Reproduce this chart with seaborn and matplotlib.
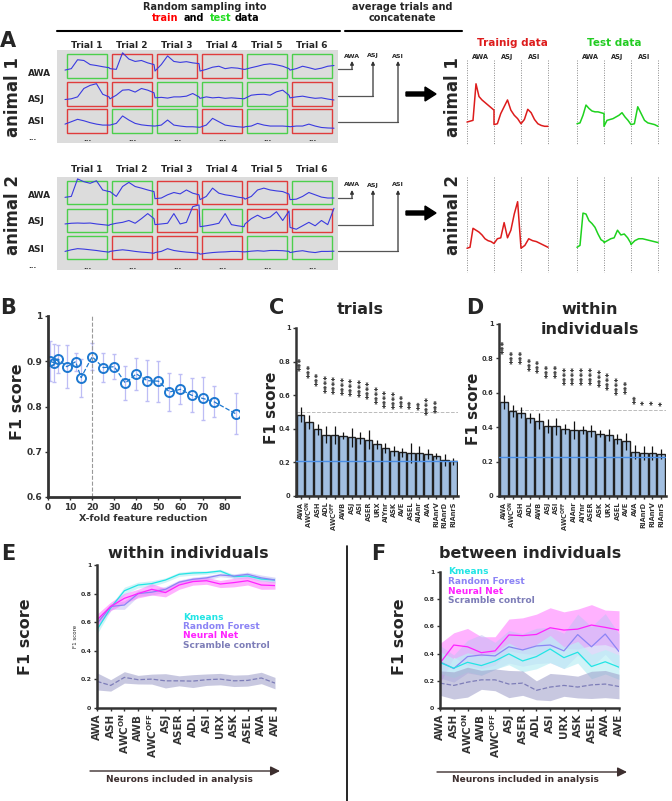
import numpy as np
import pandas as pd
import matplotlib
matplotlib.use('Agg')
import matplotlib.pyplot as plt
import seaborn as sns
from matplotlib.patches import Rectangle, FancyArrow

# ---------------- panel A: single-trial traces (fraction of row height, 8 samples / trial)
a1_awa = [0.33, 0.39, 0.76, 0.73, 0.56, 0.52, 0.47, 0.43,
          0.39, 0.36, 1.05, 0.79, 0.69, 0.73, 0.63, 0.56,
          0.29, 0.56, 0.92, 0.69, 0.65, 0.68, 0.63, 0.60,
          0.29, 0.36, 0.45, 0.49, 0.39, 0.43, 0.41, 0.36,
          0.36, 0.43, 0.49, 0.56, 0.59, 0.55, 0.49, 0.39,
          0.33, 0.39, 0.49, 0.43, 0.36, 0.41, 0.49, 0.52]
a1_asj = [0.27, 0.30, 0.38, 0.73, 0.86, 0.93, 0.49, 0.38,
          0.30, 0.45, 0.66, 0.68, 0.58, 0.73, 0.66, 0.55,
          0.34, 0.36, 0.33, 0.38, 0.38, 0.41, 0.52, 0.38,
          0.32, 0.38, 0.34, 0.36, 0.32, 0.34, 0.32, 0.30,
          0.32, 0.45, 0.48, 0.49, 0.45, 0.59, 0.66, 0.45,
          0.34, 0.38, 0.41, 0.36, 0.32, 0.34, 0.29, 0.25]
a1_asi = [0.37, 0.47, 0.57, 0.51, 0.43, 0.37, 0.33, 0.33,
          0.33, 0.40, 0.71, 0.54, 0.40, 0.34, 0.31, 0.29,
          0.29, 0.33, 0.54, 0.33, 0.29, 0.26, 0.26, 0.24,
          0.24, 0.33, 0.61, 0.47, 0.33, 0.29, 0.26, 0.24,
          0.26, 0.29, 0.40, 0.33, 0.29, 0.29, 0.29, 0.27,
          0.26, 0.29, 0.29, 0.37, 0.29, 0.23, 0.21, 0.20]
a2_awa = [0.29, 0.33, 1.09, 0.97, 0.90, 1.01, 0.61, 0.54,
          0.54, 0.33, 0.76, 0.94, 0.76, 0.69, 0.61, 0.54,
          0.23, 0.26, 0.40, 0.50, 0.44, 0.61, 0.47, 0.40,
          0.19, 0.33, 0.69, 0.47, 0.40, 0.36, 0.30, 0.26,
          0.21, 0.33, 0.61, 0.69, 0.61, 0.57, 0.54, 0.43,
          0.19, 0.21, 0.33, 0.50, 0.40, 0.30, 0.26, 0.26]
a2_asj = [0.35, 0.38, 0.39, 0.38, 0.39, 0.35, 0.32, 0.29,
          0.32, 0.38, 0.42, 0.50, 0.38, 0.58, 0.80, 0.58,
          0.32, 0.35, 0.38, 0.80, 0.35, 0.42, 1.10, 1.18,
          0.23, 0.27, 0.32, 0.38, 0.80, 0.32, 0.27, 0.23,
          0.35, 0.58, 0.73, 0.58, 0.65, 0.88, 0.50, 0.91,
          0.20, 0.12, 0.27, 0.42, 0.27, 0.50, 0.32, 1.03]
a2_asi = [0.33, 0.40, 0.45, 0.43, 0.40, 0.37, 0.33, 0.30,
          0.33, 0.37, 0.40, 0.37, 0.33, 0.30, 0.28, 0.25,
          0.28, 0.33, 0.45, 0.37, 0.33, 0.30, 0.28, 0.25,
          0.21, 0.25, 0.28, 0.30, 0.31, 0.33, 0.33, 0.31,
          0.31, 0.34, 0.36, 0.34, 0.37, 0.37, 0.36, 0.33,
          0.28, 0.33, 0.36, 0.31, 0.28, 0.33, 0.33, 0.34]
# train (R) / test (G) assignment of each trial
a1_split = [list('GRRRGG'), list('RRGGGR'), list('RGGRGR')]
a2_split = [list('GGRRRG'), list('GGRGRR'), list('GRRRGG')]
row_names = ['AWA', 'ASJ', 'ASI']

# averaged & concatenated traces (fraction of plot height)
a1_train = [[0.27, 0.28, 0.29, 0.72, 0.57, 0.53, 0.50, 0.47, 0.44, 0.41],
            [0.24, 0.25, 0.37, 0.45, 0.53, 0.41, 0.35, 0.31, 0.25],
            [0.25, 0.30, 0.42, 0.38, 0.30, 0.25, 0.23, 0.22, 0.22]]
a1_test = [[0.25, 0.26, 0.35, 0.47, 0.43, 0.40, 0.39, 0.39, 0.38, 0.37],
           [0.22, 0.29, 0.30, 0.31, 0.33, 0.35, 0.38, 0.33, 0.29, 0.24],
           [0.24, 0.25, 0.45, 0.37, 0.29, 0.26, 0.25, 0.24, 0.22]]
a2_train = [[0.25, 0.26, 0.46, 0.44, 0.42, 0.39, 0.35, 0.33, 0.32, 0.30],
            [0.30, 0.35, 0.36, 0.52, 0.36, 0.44, 0.61, 0.74, 0.25],
            [0.25, 0.28, 0.35, 0.33, 0.32, 0.30, 0.28, 0.26]]
a2_test = [[0.26, 0.28, 0.62, 0.61, 0.54, 0.51, 0.47, 0.40, 0.34, 0.32],
           [0.31, 0.33, 0.35, 0.36, 0.44, 0.39, 0.40, 0.36, 0.30],
           [0.29, 0.33, 0.35, 0.35, 0.34, 0.33, 0.32, 0.31]]

# ---------------- panel B
b_fold = [1, 2.5, 4.5, 8.5, 12.5, 15, 20, 25, 30, 35, 40, 45, 50, 55, 60, 65, 70, 75, 85]
b_f1 = [0.900, 0.897, 0.905, 0.888, 0.899, 0.864, 0.910, 0.886, 0.888, 0.852,
        0.872, 0.857, 0.856, 0.832, 0.838, 0.825, 0.818, 0.811, 0.784]
b_err = [0.044, 0.042, 0.032, 0.048, 0.020, 0.042, 0.030, 0.032, 0.027, 0.037,
         0.035, 0.045, 0.045, 0.043, 0.033, 0.037, 0.047, 0.035, 0.045]

# ---------------- panel C (trials)
c_neurons = ['AWA', 'AWC$^{\\mathbf{ON}}$', 'ASH', 'ADL', 'AWC$^{\\mathbf{OFF}}$', 'AWB', 'ASJ', 'ASI',
             'ASER', 'URX', 'AIYnr', 'ASK', 'AVE', 'ASEL', 'AIAnr', 'AVA', 'RIAnrV', 'RIAnrD', 'RIAnrS']
c_f1 = [0.485, 0.440, 0.396, 0.366, 0.362, 0.358, 0.349, 0.343, 0.335, 0.307,
        0.283, 0.269, 0.259, 0.257, 0.253, 0.248, 0.238, 0.214, 0.207]
c_err = [0.045, 0.040, 0.030, 0.050, 0.055, 0.020, 0.055, 0.035, 0.055, 0.025,
         0.030, 0.030, 0.025, 0.060, 0.045, 0.030, 0.015, 0.035, 0.020]
c_star_y = [0.787, 0.744, 0.696, 0.670, 0.665, 0.660, 0.650, 0.645, 0.636, 0.605,
            0.583, 0.576, 0.566, 0.546, 0.540, 0.540, 0.535]
c_star_n = [3, 3, 3, 4, 4, 4, 4, 4, 4, 4, 4, 4, 3, 2, 2, 4, 3]
c_chance = 0.21

# ---------------- panel D (within individuals)
d_neurons = ['AWA', 'AWC$^{\\mathbf{ON}}$', 'ASH', 'ADL', 'AWB', 'ASJ', 'ASI', 'AWC$^{\\mathbf{OFF}}$',
             'AIAnr', 'AIYnr', 'ASER', 'ASK', 'URX', 'ASEL', 'AVE', 'AVA', 'RIAnrD', 'RIAnrV', 'RIAnrS']
d_f1 = [0.548, 0.493, 0.485, 0.452, 0.437, 0.408, 0.406, 0.388, 0.384, 0.383,
        0.379, 0.363, 0.353, 0.330, 0.317, 0.256, 0.249, 0.249, 0.243]
d_err = [0.040, 0.035, 0.030, 0.030, 0.045, 0.040, 0.050, 0.030, 0.050, 0.025,
         0.035, 0.020, 0.035, 0.030, 0.050, 0.040, 0.040, 0.040, 0.030]
d_star_y = [0.868, 0.806, 0.806, 0.771, 0.758, 0.729, 0.729, 0.703, 0.703, 0.703,
            0.703, 0.690, 0.674, 0.645, 0.636, 0.564, 0.543, 0.543, 0.535]
d_star_n = [3, 3, 3, 3, 3, 3, 3, 4, 4, 4, 4, 4, 4, 4, 3, 2, 1, 1, 1]
d_chance = 0.227

# ---------------- panels E / F
ef_neurons = ['AWA', 'ASH', 'AWC$^{\\mathbf{ON}}$', 'AWB', 'AWC$^{\\mathbf{OFF}}$', 'ASJ', 'ASER',
              'ADL', 'ASI', 'URX', 'ASK', 'ASEL', 'AVA', 'AVE']
e_kmeans = [0.547, 0.700, 0.820, 0.860, 0.870, 0.895, 0.935, 0.944, 0.947, 0.958, 0.919, 0.923, 0.902, 0.895]
e_rf = [0.590, 0.710, 0.720, 0.800, 0.810, 0.830, 0.880, 0.900, 0.910, 0.930, 0.923, 0.935, 0.910, 0.895]
e_nn = [0.616, 0.710, 0.767, 0.800, 0.830, 0.807, 0.860, 0.884, 0.890, 0.867, 0.877, 0.890, 0.860, 0.856]
e_scr = [0.186, 0.158, 0.214, 0.198, 0.202, 0.190, 0.190, 0.188, 0.198, 0.202, 0.190, 0.193, 0.210, 0.174]
e_kmeans_sd = [0.030, 0.020, 0.025, 0.020, 0.020, 0.015, 0.015, 0.015, 0.012, 0.012, 0.015, 0.015, 0.015, 0.015]
e_rf_sd = [0.030, 0.020, 0.030, 0.020, 0.020, 0.020, 0.015, 0.015, 0.015, 0.012, 0.015, 0.015, 0.020, 0.020]
e_nn_sd = [0.040, 0.030, 0.035, 0.030, 0.040, 0.030, 0.030, 0.025, 0.025, 0.025, 0.030, 0.030, 0.030, 0.025]
e_scr_sd = [0.060, 0.040, 0.040, 0.030, 0.035, 0.050, 0.035, 0.045, 0.040, 0.040, 0.040, 0.040, 0.040, 0.040]

f_kmeans = [0.334, 0.293, 0.336, 0.312, 0.346, 0.398, 0.346, 0.378, 0.434, 0.370, 0.410, 0.305, 0.340, 0.300]
f_rf = [0.340, 0.290, 0.378, 0.390, 0.383, 0.450, 0.427, 0.456, 0.463, 0.420, 0.540, 0.450, 0.544, 0.415]
f_nn = [0.330, 0.463, 0.450, 0.407, 0.420, 0.537, 0.532, 0.541, 0.590, 0.573, 0.580, 0.610, 0.593, 0.573]
f_scr = [0.183, 0.166, 0.190, 0.207, 0.207, 0.176, 0.183, 0.130, 0.154, 0.166, 0.154, 0.170, 0.176, 0.158]
f_kmeans_sd = [0.080, 0.070, 0.070, 0.070, 0.060, 0.080, 0.080, 0.090, 0.100, 0.080, 0.080, 0.090, 0.090, 0.090]
f_rf_sd = [0.120, 0.100, 0.120, 0.150, 0.100, 0.120, 0.120, 0.130, 0.130, 0.130, 0.150, 0.150, 0.150, 0.130]
f_nn_sd = [0.145, 0.090, 0.135, 0.117, 0.104, 0.117, 0.131, 0.149, 0.147, 0.134, 0.147, 0.150, 0.127, 0.142]
f_scr_sd = [0.090, 0.100, 0.110, 0.070, 0.080, 0.100, 0.090, 0.070, 0.100, 0.080, 0.080, 0.100, 0.100, 0.090]

methods = ['Kmeans', 'Random Forest', 'Neural Net', 'Scramble control']
line_colors = {'Kmeans': '#22e5e5', 'Random Forest': '#8c84f5', 'Neural Net': '#ff22ff',
               'Scramble control': '#7d7db8'}
band_colors = {'Kmeans': '#bdeff5', 'Random Forest': '#c4c0f5', 'Neural Net': '#ff66ff',
               'Scramble control': '#9c9cc8'}

sns.set_style('ticks')
plt.rcParams['font.family'] = ['DejaVu Sans']

W, H = 672, 801
fig = plt.figure(figsize=(W / 100, H / 100), dpi=100)

# full-figure drawing layer in pixel coordinates, kept above the data axes
canvas = fig.add_axes([0, 0, 1, 1])
canvas.set_xlim(0, W)
canvas.set_ylim(H, 0)
canvas.axis('off')
canvas.set_zorder(10)
canvas.patch.set_visible(False)


def px_axes(l, t, r, b):
    ax = fig.add_axes([l / W, 1 - b / H, (r - l) / W, (b - t) / H])
    ax.patch.set_visible(False)
    return ax


def txt(x, y, s, size=7, **kw):
    kw.setdefault('ha', 'center')
    kw.setdefault('va', 'center')
    kw.setdefault('fontweight', 'bold')
    canvas.text(x, y, s, fontsize=size, **kw)


RED, GREEN, TRACE = '#e03c3c', '#4ccf4c', '#3a3ae0'

# ---------------- panel A
txt(8, 41, 'A', 15)
txt(205, 7, 'Random sampling into', 7)
for word, x0, col in [('train', 152, 'red'), ('and', 184, 'black'), ('test', 210, '#22dd22'), ('data', 235, 'black')]:
    txt(x0, 18, word, 7, ha='left', color=col)
canvas.plot([57, 340], [31, 31], color='black', lw=1.5)
txt(402, 7, 'average trials and', 7)
txt(402, 18, 'concatenate', 7)
canvas.plot([345, 462], [31, 31], color='black', lw=1.5)

animals = [
    dict(box=(50, 143), head=45, tops=[54, 82, 109], h=24, traces=[a1_awa, a1_asj, a1_asi],
         split=a1_split, lab_y=[74, 99, 122, 138], conn_y=[69, 96, 122], lab_top=56,
         arrow_y=94, name='animal 1', name_y=97, train=a1_train, test=a1_test, plot=(60, 145)),
    dict(box=(177, 270), head=170, tops=[181, 209, 236], h=23, traces=[a2_awa, a2_asj, a2_asi],
         split=a2_split, lab_y=[195, 222, 250, 266], conn_y=[198, 225, 251], lab_top=185,
         arrow_y=213, name='animal 2', name_y=215, train=a2_train, test=a2_test, plot=(177, 272)),
]

for an in animals:
    y0, y1 = an['box']
    canvas.add_patch(Rectangle((57, y0), 281, y1 - y0, facecolor='#dcdcdc', edgecolor='none'))
    txt(13, an['name_y'], an['name'], 12, rotation=90)
    for i in range(6):
        txt(87 + 45 * i, an['head'], f'Trial {i + 1}', 6.5)
        txt(87 + 45 * i, an['lab_y'][3] + 1, '...', 5)
    for r in range(3):
        top = an['tops'][r]
        txt(28, an['lab_y'][r], row_names[r], 6.5, ha='left')
        for i in range(6):
            ec = GREEN if an['split'][r][i] == 'G' else RED
            canvas.add_patch(Rectangle((67 + 45 * i, top), 40, an['h'], fill=False, edgecolor=ec, lw=1))
        vals = np.asarray(an['traces'][r])
        xs = np.concatenate([65 + 45 * i + np.linspace(0, 44, 8) for i in range(6)])
        canvas.plot(xs, top + an['h'] * (1 - vals), color=TRACE, lw=0.8)
    txt(28, an['lab_y'][3], '...', 5, ha='left')

    # connectors to the concatenated traces
    for r, xc in enumerate([352, 373, 398]):
        yc = an['conn_y'][r]
        canvas.plot([338, xc], [yc, yc], color='#555555', lw=0.9)
        canvas.annotate('', xy=(xc, an['lab_top'] + 5), xytext=(xc, yc),
                        arrowprops=dict(arrowstyle='-|>', color='#333333', lw=0.9, mutation_scale=5,
                                        shrinkA=0, shrinkB=0))
        txt(xc, an['lab_top'], row_names[r], 4.5)
    canvas.add_patch(FancyArrow(406, an['arrow_y'], 30, 0, width=4, head_width=14, head_length=11,
                                length_includes_head=True, color='black'))
    txt(453, an['name_y'], an['name'], 12, rotation=90)

    pt, pb = an['plot']
    for x0, x1, segs, col in [(467, 548, an['train'], '#dd1c1c'), (577, 658, an['test'], '#1ed21e')]:
        sw = (x1 - x0) / 3
        for k in range(4):
            canvas.plot([x0 + sw * k] * 2, [pt, pb], color='#888888', lw=0.7, ls=(0, (1, 1.5)))
        xs = np.concatenate([x0 + sw * k + np.linspace(0, sw, len(s)) for k, s in enumerate(segs)])
        ys = pb - (pb - pt) * np.concatenate([np.asarray(s) for s in segs])
        canvas.plot(xs, ys, color=col, lw=1.1)
        if an['name'] == 'animal 1':
            for k in range(3):
                txt(x0 + sw * (k + 0.5), 57, row_names[k], 4.8)

txt(512, 43, 'Trainig data', 7.5, color='#dd1c1c')
txt(614, 43, 'Test data', 7.5, color='#22cc22')


def style_axes(ax, lw=1.8):
    sns.despine(ax=ax)
    for s in ['left', 'bottom']:
        ax.spines[s].set_linewidth(lw)
        ax.spines[s].set_color('#333333')
    ax.tick_params(colors='#333333', width=1, length=2.5, pad=1.5)
    for lab in ax.get_xticklabels() + ax.get_yticklabels():
        lab.set_fontweight('bold')


# ---------------- panel B
txt(8, 308, 'B', 15)
axB = px_axes(48, 316, 239, 497)
dfb = pd.DataFrame({'fold': b_fold, 'f1': b_f1})
axB.errorbar(b_fold, b_f1, yerr=b_err, fmt='none', ecolor='#bdbdf5', elinewidth=0.9, capsize=1.5)
axB.axvline(20, color='#999999', ls='--', lw=0.8)
sns.lineplot(data=dfb, x='fold', y='f1', ax=axB, color='#1d78d0', linestyle='--', lw=0.9,
             marker='o', markersize=6.5, markerfacecolor='none', markeredgecolor='#1d78d0',
             markeredgewidth=1.4)
axB.set_xlim(0, 86.5)
axB.set_ylim(0.6, 1.0)
axB.set_xticks(range(0, 81, 10))
axB.set_yticks([0.6, 0.7, 0.8, 0.9, 1.0])
axB.set_yticklabels(['0.6', '0.7', '0.8', '0.9', '1'])
axB.tick_params(labelsize=6.5)
axB.set_xlabel('X-fold feature reduction', fontsize=6.8, fontweight='bold', color='#333333', labelpad=2)
axB.set_ylabel('')
style_axes(axB, 2)
txt(18, 402, 'F1 score', 11.5, rotation=90)


# ---------------- panels C and D
def bar_panel(ax, names, vals, errs, star_y, star_n, chance):
    df = pd.DataFrame({'neuron': names, 'f1': vals})
    sns.barplot(data=df, x='neuron', y='f1', ax=ax, color='#a2bfe1', saturation=1,
                edgecolor='#222222', linewidth=1.0, width=0.9, errorbar=None)
    ax.errorbar(range(len(names)), vals, yerr=errs, fmt='none', ecolor='#111111', elinewidth=0.9)
    ax.axhline(0.5, color='#bbbbbb', ls='--', lw=0.7, zorder=0)
    ax.axhline(chance, color='#4a8ee6', lw=1.0, zorder=5)
    for i, (y, n) in enumerate(zip(star_y, star_n)):
        # rotated asterisks sit off-centre in their line box; nudge them back over the bar
        ax.text(i + 0.22, y, '*' * n, rotation=90, ha='center', va='center', fontsize=6.5,
                fontweight='bold', color='#222222')
    ax.set_ylim(0, 1)
    ax.set_xlim(-0.55, len(names) - 0.45)
    ax.set_yticks([0, 0.2, 0.4, 0.6, 0.8, 1])
    ax.set_yticklabels(['0', '0.2', '0.4', '0.6', '0.8', '1'])
    ax.tick_params(axis='y', labelsize=4.8)
    ax.tick_params(axis='x', labelsize=4.8, rotation=90, length=0)
    ax.set_xlabel('')
    ax.set_ylabel('')
    style_axes(ax, 1.8)


txt(277, 308, 'C', 15)
txt(360, 310, 'trials', 11.5)
axC = px_axes(296, 328, 458, 496)
bar_panel(axC, c_neurons, c_f1, c_err, c_star_y, c_star_n, c_chance)
txt(272, 408, 'F1 score', 11, rotation=90)

txt(475, 308, 'D', 15)
txt(590, 310, 'within', 11.5)
txt(590, 330, 'individuals', 11.5)
axD = px_axes(499, 324, 666, 496)
bar_panel(axD, d_neurons, d_f1, d_err, d_star_y, d_star_n, d_chance)
txt(474, 409, 'F1 score', 11, rotation=90)


# ---------------- panels E and F
def method_panel(ax, series, sds, order):
    x = np.arange(len(ef_neurons))
    for m in order:
        v, s = np.asarray(series[m]), np.asarray(sds[m])
        alpha = {'Kmeans': 0.7, 'Random Forest': 0.55, 'Neural Net': 0.5, 'Scramble control': 0.55}[m]
        ax.fill_between(x, v - s, v + s, color=band_colors[m], alpha=alpha, lw=0)
    for m in order:
        sns.lineplot(x=x, y=series[m], ax=ax, color=line_colors[m], lw=0.9,
                     linestyle='--' if m == 'Scramble control' else '-')
    ax.set_xlim(0, len(ef_neurons) - 1)
    ax.set_ylim(0, 1)
    ax.set_yticks([0, 0.2, 0.4, 0.6, 0.8, 1])
    ax.set_yticklabels(['0', '0.2', '0.4', '0.6', '0.8', '1'])
    ax.set_xticks(x)
    ax.set_xticklabels(ef_neurons)
    ax.tick_params(axis='y', labelsize=4.5)
    ax.tick_params(axis='x', labelsize=7.5, rotation=90, length=0, pad=4, labelcolor='#3d2f2f')
    style_axes(ax, 1.8)


txt(8, 554, 'E', 15)
txt(188, 554, 'within individuals', 11.5)
axE = px_axes(97, 565, 275, 708)
method_panel(axE,
             {'Kmeans': e_kmeans, 'Random Forest': e_rf, 'Neural Net': e_nn, 'Scramble control': e_scr},
             {'Kmeans': e_kmeans_sd, 'Random Forest': e_rf_sd, 'Neural Net': e_nn_sd,
              'Scramble control': e_scr_sd},
             ['Scramble control', 'Kmeans', 'Random Forest', 'Neural Net'])
axE.set_ylabel('F1 score', fontsize=4, labelpad=2)
txt(26, 637, 'F1 score', 11.5, rotation=90)
for k, m in enumerate(methods):
    txt(183, 617 + 9.5 * k, m, 6.5, ha='left', color=line_colors[m])

canvas.plot([347, 347], [546, 801], color='black', lw=1.2)
txt(378, 554, 'F', 15)
txt(530, 554, 'between individuals', 11.5)
axF = px_axes(440, 572, 619, 708)
method_panel(axF,
             {'Kmeans': f_kmeans, 'Random Forest': f_rf, 'Neural Net': f_nn, 'Scramble control': f_scr},
             {'Kmeans': f_kmeans_sd, 'Random Forest': f_rf_sd, 'Neural Net': f_nn_sd,
              'Scramble control': f_scr_sd},
             ['Neural Net', 'Random Forest', 'Kmeans', 'Scramble control'])
txt(400, 637, 'F1 score', 11.5, rotation=90)
for k, m in enumerate(methods):
    txt(448, 572 + 9.5 * k, m, 6.5, ha='left', color=line_colors[m])

for x0, x1, xt, yl in [(90, 280, 179, 771), (437, 627, 525, 772)]:
    canvas.annotate('', xy=(x1, yl), xytext=(x0, yl),
                    arrowprops=dict(arrowstyle='-|>', color='#3d2f2f', lw=1.0, mutation_scale=14,
                                    shrinkA=0, shrinkB=0))
    txt(xt, yl + 8, 'Neurons included in analysis', 6.5, color='#3d2f2f')

fig.savefig('out.png', dpi=100)
